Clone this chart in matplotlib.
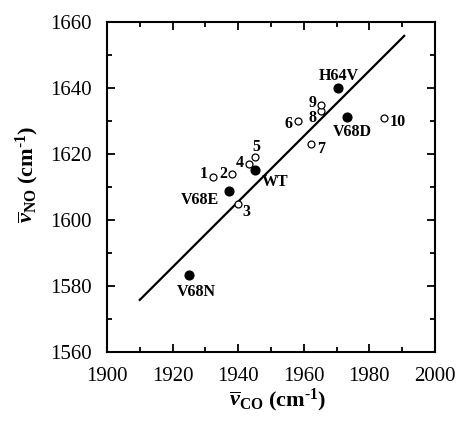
import matplotlib
matplotlib.use("Agg")
import matplotlib.pyplot as plt
from matplotlib.ticker import MultipleLocator

plt.rcParams['font.family'] = 'Liberation Serif'
plt.rcParams['mathtext.fontset'] = 'custom'
plt.rcParams['mathtext.rm'] = 'Liberation Serif:bold'
plt.rcParams['mathtext.it'] = 'Liberation Serif:bold:italic'
plt.rcParams['mathtext.bf'] = 'Liberation Serif:bold'

# mutants (filled)
mut_names = ['H64V', 'V68D', 'WT', 'V68E', 'V68N']
mut_co = [1970.3, 1973.3, 1945.1, 1937.2, 1925.0]
mut_no = [1640.0, 1631.2, 1615.2, 1608.9, 1583.4]

# model compounds (open)
mod_names = ['1', '2', '3', '4', '5', '6', '7', '8', '9', '10']
mod_co = [1932.2, 1938.2, 1940.0, 1943.2, 1945.2, 1958.3, 1962.2, 1965.3, 1965.2, 1984.4]
mod_no = [1613.0, 1614.0, 1604.8, 1617.0, 1619.0, 1630.0, 1623.0, 1633.0, 1634.8, 1630.8]

# fitted line
fit_co = [1910, 1990.6]
fit_no = [1575.8, 1655.8]

# label offsets in pixels (dx, dy, ha)
mut_off = {'H64V': (1, 12, 'center'), 'V68D': (5, -15, 'center'), 'WT': (20, -12, 'center'),
           'V68E': (-29, -9, 'center'), 'V68N': (7, -17, 'center')}
mod_off = {'1': (-9, 3, 'center'), '2': (-9, 0, 'center'), '3': (8, -8, 'center'),
           '4': (-9, 1, 'center'), '5': (1, 10, 'center'), '6': (-10, -3, 'center'),
           '7': (10, -5, 'center'), '8': (-9, -7, 'center'), '9': (-8, 2, 'center'),
           '10': (6, -4, 'left')}

fig = plt.figure(figsize=(4.6, 4.24), dpi=100)
ax = fig.add_axes([0.2326, 0.1698, 0.7131, 0.7782])

ax.plot(fit_co, fit_no, color='black', lw=1.6)
ax.plot(mod_co, mod_no, 'o', mfc='white', mec='black', ms=5, mew=0.9)
ax.plot(mut_co, mut_no, 'o', color='black', ms=6.3)

for n, x, y in zip(mut_names, mut_co, mut_no):
    dx, dy, ha = mut_off[n]
    ax.annotate(n, (x, y), xytext=(dx, dy), textcoords='offset pixels',
                ha=ha, va='center', fontsize=11.5, fontweight='bold')
for n, x, y in zip(mod_names, mod_co, mod_no):
    dx, dy, ha = mod_off[n]
    ax.annotate(n, (x, y), xytext=(dx, dy), textcoords='offset pixels',
                ha=ha, va='center', fontsize=11.5, fontweight='bold')

ax.set_xlim(1900, 2000)
ax.set_ylim(1560, 1660)
ax.xaxis.set_major_locator(MultipleLocator(20))
ax.xaxis.set_minor_locator(MultipleLocator(10))
ax.yaxis.set_major_locator(MultipleLocator(20))
ax.yaxis.set_minor_locator(MultipleLocator(10))
ax.tick_params(which='both', direction='in', top=True, right=True, width=1.3)
ax.tick_params(which='major', length=6, labelsize=15, pad=11)
ax.tick_params(which='minor', length=3.5)
for s in ax.spines.values():
    s.set_linewidth(1.5)

ax.set_xlabel(r'$\overline{v}_{\rm CO}$ (cm$^{\text{-}1}$)', fontsize=16, fontweight='bold')
ax.set_ylabel(r'$\overline{v}_{\rm NO}$ (cm$^{\text{-}1}$)', fontsize=16, fontweight='bold')
ax.xaxis.set_label_coords(0.52, -0.105)
ax.yaxis.set_label_coords(-0.2, 0.54)

fig.savefig('out.png', dpi=100)
